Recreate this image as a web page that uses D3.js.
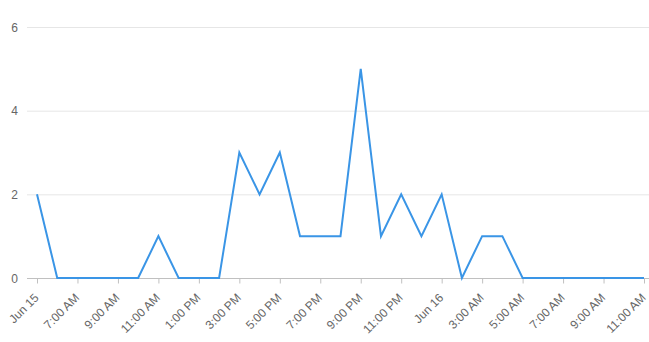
<!DOCTYPE html>
<html>
<head>
<meta charset="utf-8">
<script src="https://cdn.jsdelivr.net/npm/d3@7"></script>
<style>
  body { margin: 0; background: #fff; }
  svg { display: block; font-family: "Liberation Sans", Arial, sans-serif; }
</style>
</head>
<body>
<svg id="chart" width="649" height="342"></svg>
<script>
// hourly counts, starting Jun 15 05:00
const startTime = new Date(2024, 5, 15, 5, 0)
const counts = [2, 0, 0, 0, 0, 0, 1, 0, 0, 0, 3, 2, 3, 1, 1, 1, 5, 1, 2, 1, 2, 0, 1, 1, 0, 0, 0, 0, 0, 0, 0]
const yTicks = [0, 2, 4, 6]
const xTickLabels = ["Jun 15", "7:00 AM", "9:00 AM", "11:00 AM", "1:00 PM", "3:00 PM", "5:00 PM", "7:00 PM",
    "9:00 PM", "11:00 PM", "Jun 16", "3:00 AM", "5:00 AM", "7:00 AM", "9:00 AM", "11:00 AM"]

const data = counts.map((v, i) => ({ t: d3.timeHour.offset(startTime, i), v: v }))

const svg = d3.select("#chart")
const plotLeft = 27, plotRight = 649, plotTop = 27, plotBottom = 278

const x = d3.scaleTime()
    .domain([data[0].t, data[data.length - 1].t])
    .range([37, 644])

const y = d3.scaleLinear()
    .domain([0, 6])
    .range([plotBottom, plotTop])

// grid //
svg.append("g")
    .selectAll("line")
    .data(yTicks.filter(d => d > 0))
    .enter()
    .append("line")
    .attr("x1", plotLeft)
    .attr("x2", plotRight)
    .attr("y1", d => y(d) + 0.5)
    .attr("y2", d => y(d) + 0.5)
    .attr("stroke", "#e6e6e6")

// y labels //
svg.append("g")
    .selectAll("text")
    .data(yTicks)
    .enter()
    .append("text")
    .attr("x", 18)
    .attr("y", d => y(d) + 4.5)
    .attr("text-anchor", "end")
    .attr("font-size", 12)
    .attr("fill", "#666")
    .text(d => d)

// x axis //
const tickTimes = xTickLabels.map((d, i) => d3.timeHour.offset(startTime, i * 2))

const xAxis = d3.axisBottom(x)
    .tickValues(tickTimes)
    .tickFormat((d, i) => xTickLabels[i])
    .tickSize(5)
    .tickSizeOuter(0)

const gx = svg.append("g")
    .attr("transform", `translate(0,${plotBottom + 0.5})`)
    .call(xAxis)

gx.select(".domain").remove()
gx.insert("line", ":first-child")
    .attr("x1", plotLeft)
    .attr("x2", plotRight)
    .attr("stroke", "#c0c0c0")
gx.selectAll(".tick line").attr("stroke", "#c0c0c0")
gx.selectAll(".tick text")
    .attr("font-size", 12)
    .attr("font-family", "Liberation Sans, Arial, sans-serif")
    .attr("fill", "#666")
    .attr("text-anchor", "end")
    .attr("dy", null)
    .attr("y", 0)
    .attr("transform", "translate(2,20) rotate(-45)")

// line //
const line = d3.line()
    .x(d => x(d.t))
    .y(d => y(d.v))

svg.append("path")
    .datum(data)
    .attr("fill", "none")
    .attr("stroke", "#3a95e6")
    .attr("stroke-width", 2)
    .attr("stroke-linejoin", "miter")
    .attr("d", line)
</script>
</body>
</html>
